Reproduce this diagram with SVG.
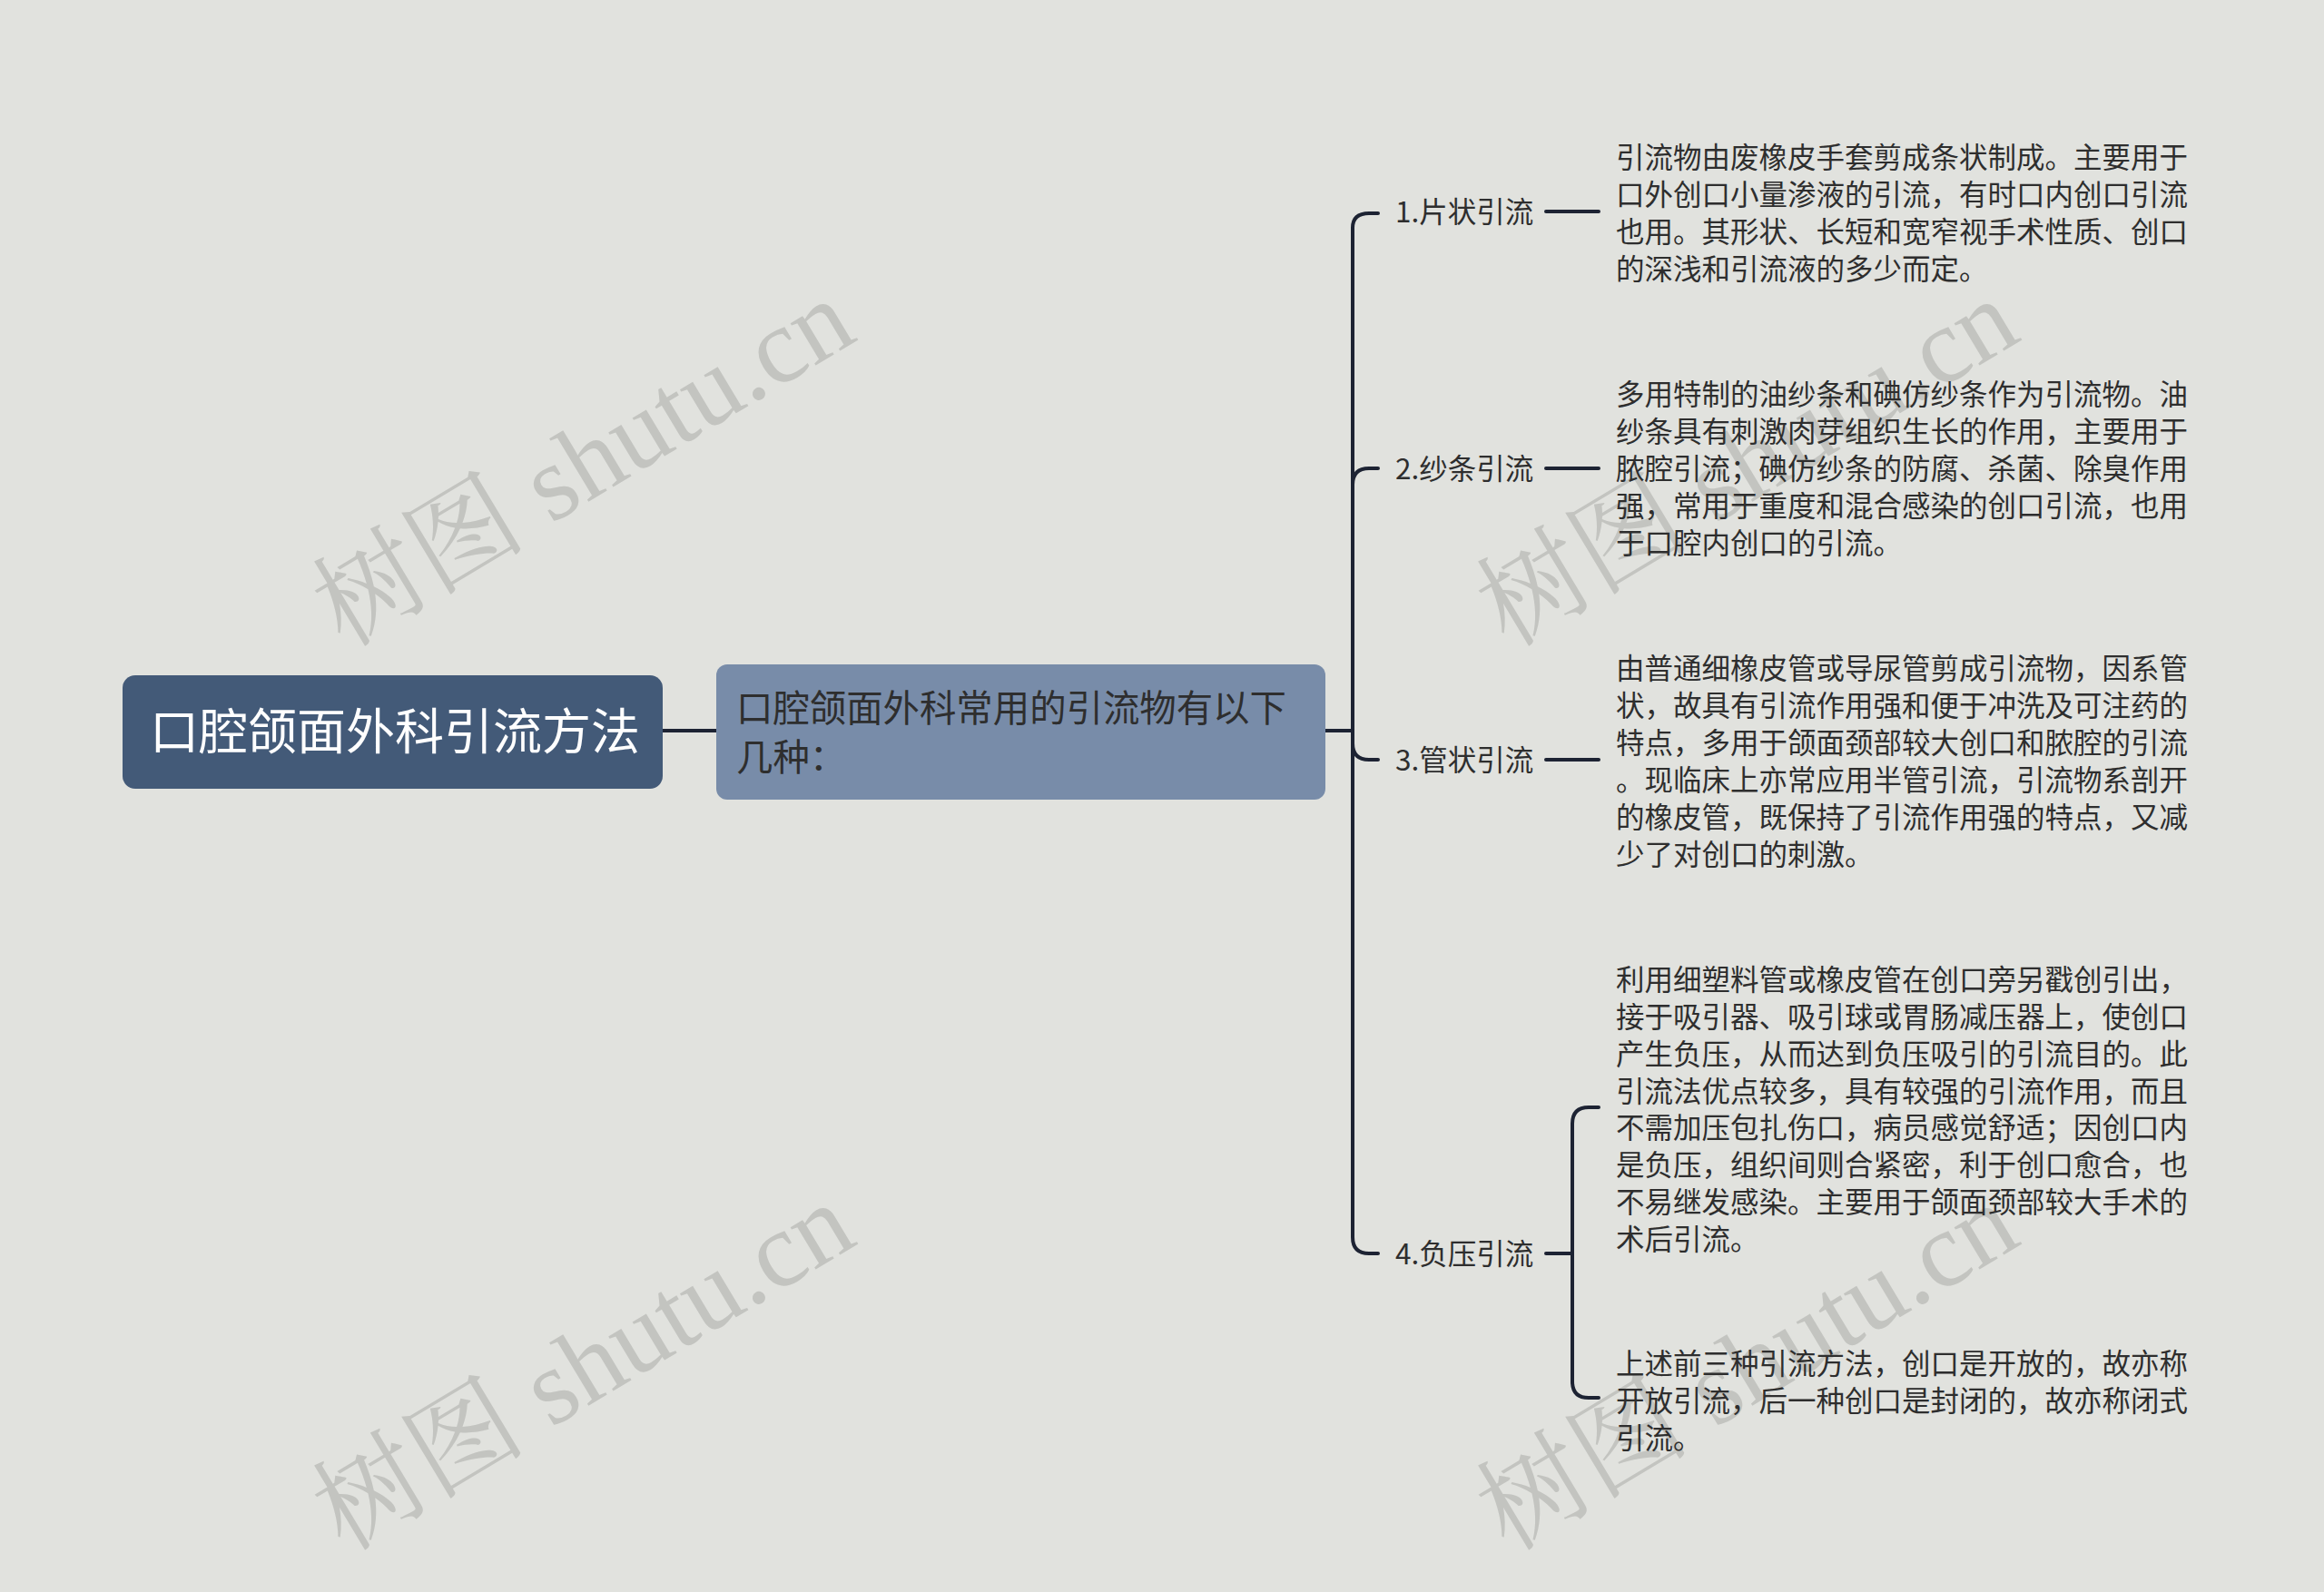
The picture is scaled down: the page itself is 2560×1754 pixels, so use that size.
<svg xmlns="http://www.w3.org/2000/svg" width="2560" height="1754" viewBox="0 0 2560 1754">
<style>
.t{font-family:"Noto Sans CJK SC","Noto Sans",sans-serif;fill:#2e2e2e}
.d{font-size:31.5px}
.wm{font-family:"Liberation Serif","Noto Serif CJK SC","Noto Sans CJK SC",serif;font-size:118px;fill:#c3c4c0;text-anchor:middle}
.e{fill:none;stroke:#1d2333;stroke-width:4;stroke-linecap:round}
</style>
<rect width="2560" height="1754" fill="#e1e2de"/>
<g id="watermarks">
<text class="wm" transform="translate(645,514) rotate(-31)" y="35">树图 shutu.cn</text>
<text class="wm" transform="translate(645,1510) rotate(-31)" y="35">树图 shutu.cn</text>
<text class="wm" transform="translate(1927,514) rotate(-31)" y="35">树图 shutu.cn</text>
<text class="wm" transform="translate(1927,1510) rotate(-31)" y="35">树图 shutu.cn</text>
</g>
<g id="connectors">
<path class="e" d="M730,805 H789"/>
<path class="e" d="M1460,805 H1490"/>
<path class="e" d="M1490,805 V251 Q1490,235 1508,235 H1518"/>
<path class="e" d="M1490,805 V534 Q1490,516 1508,516 H1518"/>
<path class="e" d="M1490,805 V819 Q1490,837 1508,837 H1518"/>
<path class="e" d="M1490,805 V1363 Q1490,1381 1508,1381 H1518"/>
<path class="e" d="M1703,233 H1761"/>
<path class="e" d="M1703,516 H1761"/>
<path class="e" d="M1703,837 H1761"/>
<path class="e" d="M1703,1381 H1732"/>
<path class="e" d="M1732,1381 V1238 Q1732,1220 1750,1220 H1761"/>
<path class="e" d="M1732,1381 V1522 Q1732,1540 1750,1540 H1761"/>
</g>
<g id="root">
<rect x="135" y="744" width="595" height="125" rx="14" fill="#435a78"/>
<text class="t" x="165" y="826" style="font-size:54px;fill:#ffffff">口腔颌面外科引流方法</text>
</g>
<g id="sub">
<rect x="789" y="732" width="671" height="149" rx="12" fill="#788ca9"/>
<text class="t" x="811" style="font-size:40.4px"><tspan x="811" y="795">口腔颌面外科常用的引流物有以下</tspan><tspan x="811" y="849">几种：</tspan></text>
</g>
<g id="label1"><text class="t d" x="1537" y="245">1.片状引流</text></g>
<g id="label2"><text class="t d" x="1537" y="528">2.纱条引流</text></g>
<g id="label3"><text class="t d" x="1537" y="849">3.管状引流</text></g>
<g id="label4"><text class="t d" x="1537" y="1393">4.负压引流</text></g>
<g id="desc1"><text class="t d"><tspan x="1780" y="185">引流物由废橡皮手套剪成条状制成。主要用于</tspan><tspan x="1780" y="226">口外创口小量渗液的引流，有时口内创口引流</tspan><tspan x="1780" y="267">也用。其形状、长短和宽窄视手术性质、创口</tspan><tspan x="1780" y="308">的深浅和引流液的多少而定。</tspan></text></g>
<g id="desc2"><text class="t d"><tspan x="1780" y="446">多用特制的油纱条和碘仿纱条作为引流物。油</tspan><tspan x="1780" y="487">纱条具有刺激肉芽组织生长的作用，主要用于</tspan><tspan x="1780" y="528">脓腔引流；碘仿纱条的防腐、杀菌、除臭作用</tspan><tspan x="1780" y="569">强，常用于重度和混合感染的创口引流，也用</tspan><tspan x="1780" y="610">于口腔内创口的引流。</tspan></text></g>
<g id="desc3"><text class="t d"><tspan x="1780" y="748">由普通细橡皮管或导尿管剪成引流物，因系管</tspan><tspan x="1780" y="789">状，故具有引流作用强和便于冲洗及可注药的</tspan><tspan x="1780" y="830">特点，多用于颌面颈部较大创口和脓腔的引流</tspan><tspan x="1780" y="871">。现临床上亦常应用半管引流，引流物系剖开</tspan><tspan x="1780" y="912">的橡皮管，既保持了引流作用强的特点，又减</tspan><tspan x="1780" y="953">少了对创口的刺激。</tspan></text></g>
<g id="desc4a"><text class="t d"><tspan x="1780" y="1091">利用细塑料管或橡皮管在创口旁另戳创引出，</tspan><tspan x="1780" y="1132">接于吸引器、吸引球或胃肠减压器上，使创口</tspan><tspan x="1780" y="1173">产生负压，从而达到负压吸引的引流目的。此</tspan><tspan x="1780" y="1214">引流法优点较多，具有较强的引流作用，而且</tspan><tspan x="1780" y="1254">不需加压包扎伤口，病员感觉舒适；因创口内</tspan><tspan x="1780" y="1295">是负压，组织间则合紧密，利于创口愈合，也</tspan><tspan x="1780" y="1336">不易继发感染。主要用于颌面颈部较大手术的</tspan><tspan x="1780" y="1377">术后引流。</tspan></text></g>
<g id="desc4b"><text class="t d"><tspan x="1780" y="1514">上述前三种引流方法，创口是开放的，故亦称</tspan><tspan x="1780" y="1555">开放引流，后一种创口是封闭的，故亦称闭式</tspan><tspan x="1780" y="1596">引流。</tspan></text></g>
</svg>
